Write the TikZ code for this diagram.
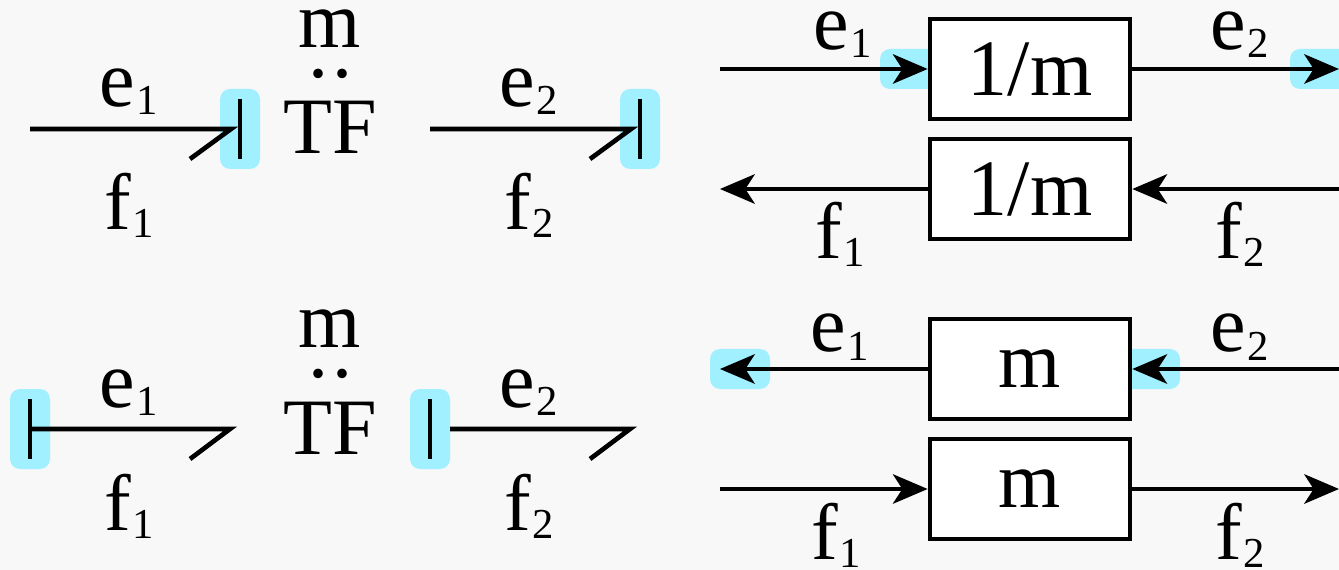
\documentclass[tikz,border=0pt]{standalone}
\usepackage{fontspec}
\setmainfont{Liberation Serif}
\usepackage{tikz}
\usetikzlibrary{
  arrows.meta               % Stealth arrow tips
}
\definecolor{pagegray}{HTML}{F8F8F8}
\definecolor{causal}{HTML}{A0F0FF}
\tikzset{
  bond/.style={
    line width=3.5pt,
    color=black
  },
  signal/.style={
    -{Stealth[length=26pt,width=22pt,inset=7pt]},
    line width=3.5pt,
    color=black
  },
  gain box/.style={
    draw=black,
    fill=white,
    line width=3.5pt,
    minimum width=150pt,
    minimum height=75pt,
    inner sep=0pt,
    font=\fontsize{60}{60}\selectfont
  },
  var label/.style={
    font=\fontsize{60}{60}\selectfont,
    inner sep=0pt,
    anchor=base
  },
  causal mark/.style={
    fill=causal,
    rounded corners=7.5pt
  }
}
\newcommand{\varsub}[2]{#1\kern1pt\raisebox{-6pt}{\fontsize{32}{32}\selectfont #2}}

\begin{document}
\begin{tikzpicture}[x=0.75pt, y=-0.75pt]
  \useasboundingbox (0,0) rectangle (1339,570);
  \fill[pagegray] (0,0) rectangle (1339,570);

  % causal strokes
  \fill[causal mark] (220,89) rectangle (260,169);
  \fill[causal mark] (620,89) rectangle (660,169);
  \fill[causal mark] (10,389) rectangle (50,469);
  \fill[causal mark] (410,389) rectangle (450,469);
  \fill[causal mark] (880,49) rectangle (950,89);
  \fill[causal mark] (1290,49) rectangle (1360,89);
  \fill[causal mark] (710,349) rectangle (770,389);
  \fill[causal mark] (1120,349) rectangle (1180,389);

  % top left bonds
  \coordinate (a1) at (30,129);
  \coordinate (a2) at (231,129);
  \coordinate (a3) at (190,159);
  \coordinate (b1) at (430,129);
  \coordinate (b2) at (631,129);
  \coordinate (b3) at (590,159);
  \draw[bond] (a1) -- (a2) -- (a3);
  \draw[bond] (240,99) -- (240,159);
  \draw[bond] (b1) -- (b2) -- (b3);
  \draw[bond] (640,99) -- (640,159);

  % bottom left bonds
  \coordinate (c1) at (30,429);
  \coordinate (c2) at (230,429);
  \coordinate (c3) at (190,459);
  \coordinate (d1) at (450,429);
  \coordinate (d2) at (630,429);
  \coordinate (d3) at (590,459);
  \draw[bond] (c1) -- (c2) -- (c3);
  \draw[bond] (30,399) -- (30,459);
  \draw[bond] (d1) -- (d2) -- (d3);
  \draw[bond] (430,399) -- (430,459);

  % TF labels
  \node[var label] (tfa) at (330,154) {TF};
  \node[var label] (ma) at (330,48) {m};
  \node[var label] (dotsa) at (330,78) {.\kern3pt.};
  \node[var label] (tfb) at (330,454) {TF};
  \node[var label] (mb) at (330,348) {m};
  \node[var label] (dotsb) at (330,378) {.\kern3pt.};

  \node[var label] (ea1) at (129,107) {\varsub{e}{1}};
  \node[var label] (fa1) at (129,230) {\varsub{f}{1}};
  \node[var label] (ea2) at (529,107) {\varsub{e}{2}};
  \node[var label] (fa2) at (529,230) {\varsub{f}{2}};
  \node[var label] (eb1) at (129,407) {\varsub{e}{1}};
  \node[var label] (fb1) at (129,530) {\varsub{f}{1}};
  \node[var label] (eb2) at (529,407) {\varsub{e}{2}};
  \node[var label] (fb2) at (529,530) {\varsub{f}{2}};

  % block diagrams
  \node[gain box] (g1) at (1030,69) {1/m};
  \node[gain box] (g2) at (1030,189) {1/m};
  \node[gain box] (g3) at (1030,369) {m};
  \node[gain box] (g4) at (1030,489) {m};

  \coordinate (w1) at (720,69);
  \coordinate (o1) at (1339,69);
  \coordinate (w2) at (720,189);
  \coordinate (o2) at (1339,189);
  \coordinate (w3) at (720,369);
  \coordinate (o3) at (1339,369);
  \coordinate (w4) at (720,489);
  \coordinate (o4) at (1339,489);
  \draw[signal] (w1) -- (g1);
  \draw[signal] (g1) -- (o1);
  \draw[signal] (g2) -- (w2);
  \draw[signal] (o2) -- (g2);
  \draw[signal] (g3) -- (w3);
  \draw[signal] (o3) -- (g3);
  \draw[signal] (w4) -- (g4);
  \draw[signal] (g4) -- (o4);

  \node[var label] (re1) at (843,50) {\varsub{e}{1}};
  \node[var label] (re2) at (1240,50) {\varsub{e}{2}};
  \node[var label] (rf1) at (840,259) {\varsub{f}{1}};
  \node[var label] (rf2) at (1240,259) {\varsub{f}{2}};
  \node[var label] (se1) at (840,352) {\varsub{e}{1}};
  \node[var label] (se2) at (1240,352) {\varsub{e}{2}};
  \node[var label] (sf1) at (836,559) {\varsub{f}{1}};
  \node[var label] (sf2) at (1240,559) {\varsub{f}{2}};
\end{tikzpicture}
\end{document}
